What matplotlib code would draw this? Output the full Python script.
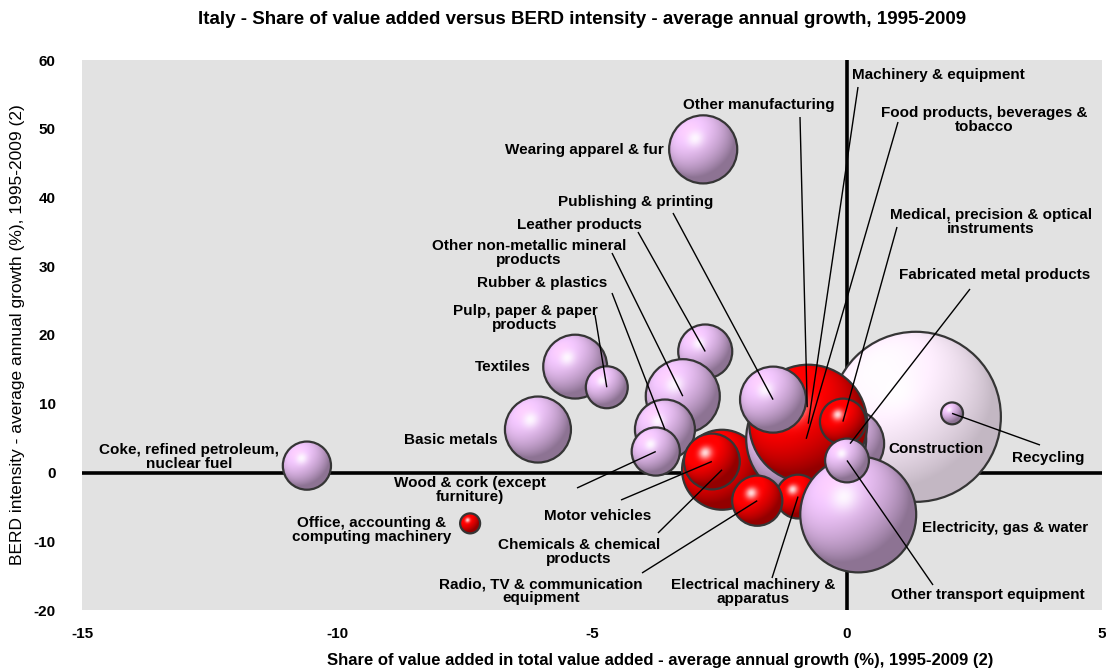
import numpy as np
import matplotlib
matplotlib.use("Agg")
import matplotlib.pyplot as plt
from matplotlib.patches import Ellipse

# ---------------- data ----------------
sectors = ["Wearing apparel & fur", "Coke, refined petroleum, nuclear fuel",
           "Office, accounting & computing machinery", "Basic metals", "Textiles",
           "Pulp, paper & paper products", "Leather products",
           "Other non-metallic mineral products", "Rubber & plastics",
           "Wood & cork (except furniture)", "Construction", "Fabricated metal products",
           "Other manufacturing",
           "Chemicals & chemical products", "Food products, beverages & tobacco",
           "Machinery & equipment", "Electrical machinery & apparatus",
           "Electricity, gas & water", "Motor vehicles",
           "Radio, TV & communication equipment",
           "Publishing & printing", "Medical, precision & optical instruments",
           "Other transport equipment", "Recycling"]
va_growth = [-2.82, -10.59, -7.39, -6.06, -5.33, -4.71, -2.78, -3.22, -3.57, -3.75,
             1.35, 0.06, -0.78, -2.45, -0.80, -0.76, -0.96, 0.22, -2.65, -1.76,
             -1.45, -0.08, 0.0, 2.06]
berd_growth = [47.0, 1.0, -7.4, 6.25, 15.4, 12.4, 17.6, 11.1, 6.25, 3.05,
               8.1, 4.2, 9.5, 0.4, 4.9, 7.1, -3.5, -6.1, 1.6, -4.1,
               10.6, 7.4, 1.75, 8.6]
bubble_size = [11.6, 5.8, 1.0, 10.9, 10.2, 4.4, 7.3, 13.7, 9.0, 5.8,
               72.3, 11.6, 2.3, 16.0, 36.0, 34.8, 4.8, 33.6, 7.8, 6.3,
               10.9, 5.3, 4.8, 1.2]
group = ["p", "p", "r", "p", "p", "p", "p", "p", "p", "p",
         "c", "p", "p", "r", "p", "r", "r", "p", "r", "r",
         "p", "r", "p", "p"]

x_ticks = [-15, -10, -5, 0, 5]
y_ticks = [-20, -10, 0, 10, 20, 30, 40, 50, 60]

title = "Italy - Share of value added versus BERD intensity - average annual growth, 1995-2009"
xlabel = "Share of value added in total value added - average annual growth (%), 1995-2009 (2)"
ylabel = "BERD intensity - average annual growth (%), 1995-2009 (2)"

# ---------------- layout ----------------
W, H = 1106, 669
AX_L, AX_R, AX_T, AX_B = 82, 1102, 60, 610
XMIN, XMAX, YMIN, YMAX = -15, 5, -20, 60
SX = (AX_R - AX_L) / (XMAX - XMIN)
SY = (AX_B - AX_T) / (YMAX - YMIN)


def px2d(px, py):
    return XMIN + (px - AX_L) / SX, YMAX - (py - AX_T) / SY


# label text (pixel pos, ha, line start pixel or None)
labels = {
    "Machinery & equipment": ("Machinery & equipment", (852, 75), "left", (858, 87)),
    "Other manufacturing": ("Other manufacturing", (759, 105), "center", (800, 117)),
    "Food products, beverages & tobacco": ("Food products, beverages &\ntobacco", (984, 120), "center", (898, 122)),
    "Wearing apparel & fur": ("Wearing apparel & fur", (664, 150), "right", None),
    "Publishing & printing": ("Publishing & printing", (636, 202), "center", (673, 213)),
    "Leather products": ("Leather products", (579, 225), "center", (638, 232)),
    "Medical, precision & optical instruments": ("Medical, precision & optical\ninstruments", (991, 222), "center", (897, 227)),
    "Other non-metallic mineral products": ("Other non-metallic mineral\nproducts", (529, 253), "center", (612, 253)),
    "Fabricated metal products": ("Fabricated metal products", (995, 275), "center", (970, 289)),
    "Rubber & plastics": ("Rubber & plastics", (542, 283), "center", (612, 293)),
    "Pulp, paper & paper products": ("Pulp, paper & paper\nproducts", (525, 318), "center", (595, 315)),
    "Textiles": ("Textiles", (531, 367), "right", None),
    "Basic metals": ("Basic metals", (498, 440), "right", None),
    "Coke, refined petroleum, nuclear fuel": ("Coke, refined petroleum,\nnuclear fuel", (189, 457), "center", None),
    "Construction": ("Construction", (888, 449), "left", None),
    "Recycling": ("Recycling", (1048, 458), "center", (1040, 445)),
    "Wood & cork (except furniture)": ("Wood & cork (except\nfurniture)", (470, 490), "center", (577, 488)),
    "Motor vehicles": ("Motor vehicles", (598, 516), "center", (621, 500)),
    "Electricity, gas & water": ("Electricity, gas & water", (922, 528), "left", None),
    "Office, accounting & computing machinery": ("Office, accounting &\ncomputing machinery", (372, 530), "center", None),
    "Chemicals & chemical products": ("Chemicals & chemical\nproducts", (579, 552), "center", (658, 533)),
    "Radio, TV & communication equipment": ("Radio, TV & communication\nequipment", (541, 591), "center", (642, 573)),
    "Electrical machinery & apparatus": ("Electrical machinery &\napparatus", (753, 592), "center", (772, 578)),
    "Other transport equipment": ("Other transport equipment", (988, 595), "center", (933, 585)),
}

styles = {"p": (np.array([0.88, 0.72, 0.92]), 0.63, 0.50),
          "r": (np.array([1.0, 0.0, 0.0]), 0.58, 0.55),
          "c": (np.array([0.96, 0.90, 0.96]), 0.80, 0.30)}


def sphere_img(base, amb, dif, n=200):
    t = np.linspace(-1, 1, n)
    u, v = np.meshgrid(t, t)
    rr = u ** 2 + v ** 2
    nz = np.sqrt(np.clip(1 - rr, 0, 1))
    L = np.array([-0.45, 0.55, 0.70]); L /= np.linalg.norm(L)
    d = np.clip(u * L[0] + v * L[1] + nz * L[2], 0, 1)
    Hh = L + np.array([0, 0, 1.0]); Hh /= np.linalg.norm(Hh)
    s = np.clip(u * Hh[0] + v * Hh[1] + nz * Hh[2], 0, 1) ** 35
    col = base[None, None, :] * (amb + dif * d)[..., None]
    col = np.clip(col, 0, 1)
    col = col + (1 - col) * (0.85 * s)[..., None]
    rgba = np.dstack([np.clip(col, 0, 1), np.ones_like(u)])
    return rgba


plt.rcParams['font.family'] = ['Liberation Sans', 'DejaVu Sans']
fig = plt.figure(figsize=(W / 100, H / 100), dpi=100)
fig.patch.set_facecolor("white")
ax = fig.add_axes([AX_L / W, (H - AX_B) / H, (AX_R - AX_L) / W, (AX_B - AX_T) / H])
ax.set_facecolor("#E2E2E2")
for sp in ax.spines.values():
    sp.set_visible(False)

ax.axhline(0, color="black", lw=2.6, zorder=1)
ax.axvline(0, color="black", lw=2.6, zorder=1)

K = 10.0  # pixel radius per sqrt(size)
z = 2
for name, xv, yv, sz, g in zip(sectors, va_growth, berd_growth, bubble_size, group):
    rpx = K * np.sqrt(sz)
    rx, ry = rpx / SX, rpx / SY
    img = sphere_img(*styles[g])
    im = ax.imshow(img, extent=[xv - rx, xv + rx, yv - ry, yv + ry], origin="lower",
                   aspect="auto", interpolation="bilinear", zorder=z)
    e = Ellipse((xv, yv), 2 * rx, 2 * ry, facecolor="none", edgecolor="#353535",
                lw=1.6, zorder=z + 0.5)
    ax.add_patch(e)
    im.set_clip_path(e)
    z += 1

centers = {n: (xv, yv) for n, xv, yv in zip(sectors, va_growth, berd_growth)}
for name, (txt, tpos, ha, lstart) in labels.items():
    tx, ty = px2d(*tpos)
    ax.text(tx, ty, txt, ha=ha, va="center", fontsize=11, fontweight="bold",
            linespacing=0.95, zorder=200, color="black")
    if lstart is not None:
        lx, ly = px2d(*lstart)
        cx, cy = centers[name]
        ax.plot([lx, cx], [ly, cy], color="black", lw=1.0, zorder=150,
                solid_capstyle="butt")

ax.set_xlim(XMIN, XMAX)
ax.set_ylim(YMIN, YMAX)
ax.set_aspect("auto")
ax.set_xticks(x_ticks)
ax.set_yticks(y_ticks)
ax.set_xticklabels([str(t) for t in x_ticks], fontsize=11, fontweight="bold")
ax.set_yticklabels([str(t) for t in y_ticks], fontsize=11, fontweight="bold")
ax.tick_params(axis="x", length=0, pad=12)
ax.tick_params(axis="y", length=0, pad=19)

fig.text(0.5 * (137 + 1028) / W, 1 - 20 / H, title, ha="center", va="center",
         fontsize=13.5, fontweight="bold")
fig.text(660 / W, 1 - 660 / H, xlabel, ha="center", va="center",
         fontsize=12, fontweight="bold")
fig.text(18 / W, 1 - 335 / H, ylabel, ha="center", va="center", rotation=90,
         fontsize=12.5, family=["Liberation Sans Narrow", "Liberation Sans", "DejaVu Sans"])

fig.savefig("out.png", dpi=100)
